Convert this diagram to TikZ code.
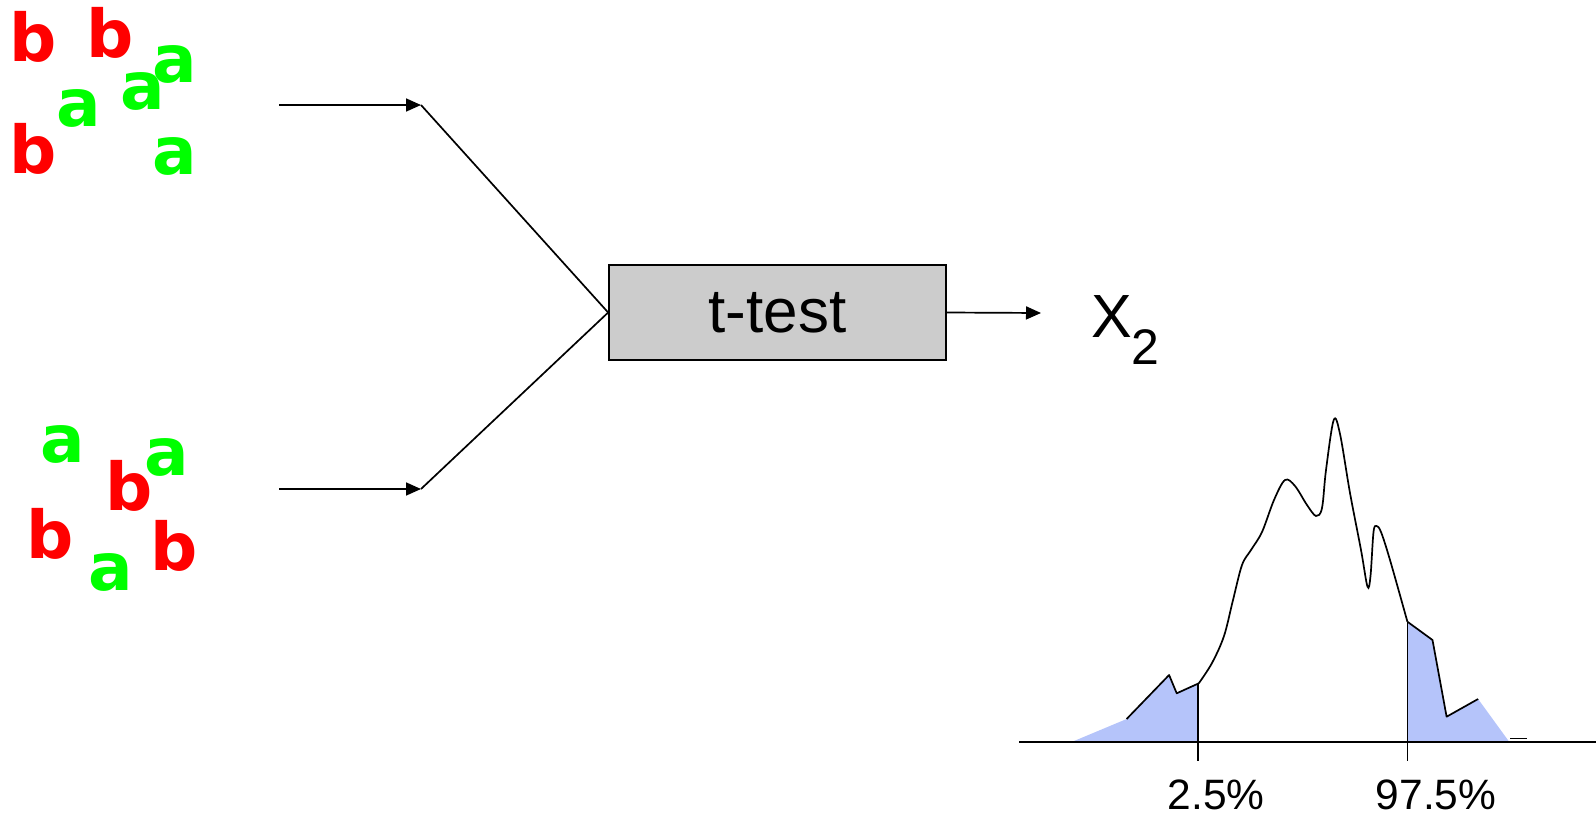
\documentclass[tikz,border=0pt]{standalone}
\usepackage{fontspec}
\setmainfont{Liberation Sans}
\newfontfamily\letterfont{DejaVu Sans}
\usetikzlibrary{arrows.meta}
\definecolor{tailblue}{RGB}{181,196,250}
\definecolor{boxgray}{RGB}{204,204,204}
\tikzset{
  lett/.style={inner sep=0pt, anchor=base, font=\letterfont\bfseries\fontsize{66}{70}\selectfont},
  la/.style={lett, text={rgb,255:red,0;green,255;blue,0}},
  lb/.style={lett, text={rgb,255:red,255;green,0;blue,0}},
  conn/.style={line width=1.7pt},
  arr/.style={conn, -{Triangle[length=15pt,width=13pt]}},
  lbl/.style={inner sep=0pt, anchor=base, font=\fontsize{42.5}{45}\selectfont},
}
\begin{document}
\begin{tikzpicture}[x=1pt,y=-1pt]
\useasboundingbox (0,0) rectangle (1596,816);

% first sample
\node[lb] (t1) at (33,62) {b};
\node[lb] (t2) at (110,58) {b};
\node[la] (t3) at (175,83) {a};
\node[la] (t4) at (143,110) {a};
\node[la] (t5) at (79,126) {a};
\node[lb] (t6) at (33,173) {b};
\node[la] (t7) at (175,174) {a};

% second sample
\node[la] (u1) at (63,462) {a};
\node[la] (u2) at (167,475) {a};
\node[lb] (u3) at (129,510) {b};
\node[lb] (u4) at (50,558) {b};
\node[lb] (u5) at (174,570) {b};
\node[la] (u6) at (111,590) {a};

% test box
\node[draw, line width=1.7pt, fill=boxgray, minimum width=337pt, minimum height=95pt,
      inner sep=0pt, font=\fontsize{62}{64}\selectfont] (test) at (777.5,312.5) {t-test};

% inputs
\coordinate (s1) at (279,105);
\coordinate (j1) at (421,105);
\coordinate (s2) at (279,489);
\coordinate (j2) at (421,489);
\draw[arr] (s1) -- (j1);
\draw[conn] (j1) -- (test.west);
\draw[arr] (s2) -- (j2);
\draw[conn] (j2) -- (test.west);

% output statistic
\coordinate (o1) at (1041,313);
\draw[arr] (test.east) -- (o1);
\node[inner sep=0pt, anchor=base west, font=\fontsize{61}{64}\selectfont] (stat) at (1091,337)
  {X\raisebox{-27pt}{\fontsize{50}{52}\selectfont 2}};

% null distribution: shaded tails
\fill[tailblue] (1074,741) -- (1126.6,719) -- (1169.1,675) -- (1176.7,693.3) -- (1198.8,683.3) -- (1198.8,741) -- cycle;
\fill[tailblue] (1407.4,741) -- (1407.4,621.7) -- (1432.5,640) -- (1446.6,716.7) -- (1478.1,699) -- (1508.6,741) -- cycle;

% axis and percentile ticks
\draw[conn] (1019,741.7) -- (1596,741.7);
\draw[conn] (1198,683.3) -- (1198,761);
\draw[conn] (1407.4,621.7) -- (1407.4,761);
\node[lbl] (p1) at (1216,809) {2.5\%};
\node[lbl] (p2) at (1436,809) {97.5\%};

% density outline
\draw[conn, line join=round] (1126.6,719) -- (1169.1,675) -- (1176.7,693.3) -- (1198.8,683.3);
\draw[conn] plot[smooth, tension=0.55] coordinates {
  (1198.8,683.3) (1212,663) (1224,636) (1233,600) (1242,565) (1251,550)
  (1262,532) (1274,500) (1285,480) (1295,486) (1307,505) (1316,516)
  (1322,508) (1326,470) (1333.7,420) (1340,434) (1350,493) (1361,550)
  (1367.5,586.7) (1370.5,576) (1373.5,532) (1376.5,526) (1381,532)
  (1390,560) (1407.4,621.7)};
\draw[conn, line join=round] (1407.4,621.7) -- (1432.5,640) -- (1446.6,716.7) -- (1478.1,699);
\draw[conn] (1510,738.5) -- (1527,738.5);
\end{tikzpicture}
\end{document}
